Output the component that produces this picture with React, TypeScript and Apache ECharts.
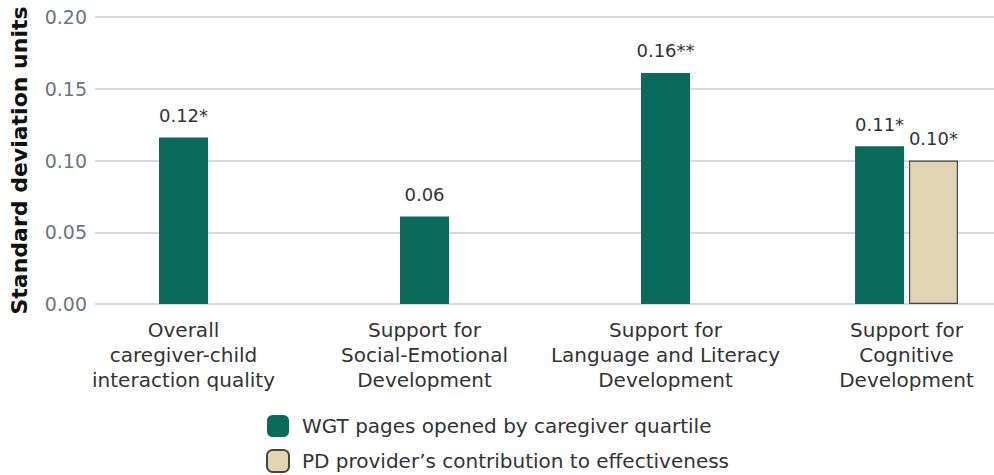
import React, { useEffect, useRef } from "react";
import * as echarts from "echarts";

const categories = [
  "Overall\ncaregiver-child\ninteraction quality",
  "Support for\nSocial-Emotional\nDevelopment",
  "Support for\nLanguage and Literacy\nDevelopment",
  "Support for\nCognitive\nDevelopment",
];
const seriesNames = [
  "WGT pages opened by caregiver quartile",
  "PD provider\u2019s contribution to effectiveness",
];
const wgtCentered = [0.116, 0.061, 0.161, "-"];
const wgtPaired = ["-", "-", "-", 0.110];
const pdPaired = ["-", "-", "-", 0.100];
const wgtLabels = ["0.12*", "0.06", "0.16**", "0.11*"];
const pdLabels = ["", "", "", "0.10*"];
const yTicks = { min: 0, max: 0.2, interval: 0.05 };

const FONT = "'DejaVu Sans', 'Open Sans', sans-serif";
const GREEN = "#0b6b5a";
const BEIGE = "#e0d4b3";

export default function App() {
  const ref = useRef<HTMLDivElement>(null);
  useEffect(() => {
    if (!ref.current) return;
    const chart = echarts.init(ref.current, undefined, { renderer: "svg" });
    const labelStyle = {
      show: true,
      position: "top",
      distance: 13,
      fontFamily: FONT,
      fontSize: 18,
      color: "#333333",
    };
    chart.setOption({
      animation: false,
      textStyle: { fontFamily: FONT },
      grid: [
        { left: 95, right: 0, top: 17, bottom: 171, outerBoundsMode: "none", containLabel: false },
        { left: 63, width: 964, top: 17, bottom: 171, outerBoundsMode: "none", containLabel: false },
      ],
      xAxis: [
        {
          gridIndex: 0,
          type: "category",
          data: categories,
          show: false,
        },
        {
          gridIndex: 1,
          type: "category",
          data: categories,
          axisLine: { show: false },
          axisTick: { show: false },
          axisLabel: {
            margin: 13,
            fontFamily: FONT,
            fontSize: 20,
            lineHeight: 25,
            color: "#333333",
            interval: 0,
          },
        },
        {
          gridIndex: 1,
          type: "category",
          data: categories,
          position: "top",
          show: false,
        },
      ],
      yAxis: [
        {
          gridIndex: 0,
          type: "value",
          min: yTicks.min,
          max: yTicks.max,
          interval: yTicks.interval,
          name: "Standard deviation units",
          nameLocation: "middle",
          nameGap: 65,
          nameTextStyle: {
            fontFamily: FONT,
            fontSize: 22,
            fontWeight: "bold",
            color: "#111111",
          },
          axisLine: { show: false },
          axisTick: { show: false },
          axisLabel: {
            margin: 8,
            fontFamily: FONT,
            fontSize: 19,
            color: "#6b7580",
            formatter: (v: number) => v.toFixed(2),
          },
          splitLine: { lineStyle: { color: "#cccccc", width: 1.5 } },
        },
        {
          gridIndex: 1,
          type: "value",
          min: yTicks.min,
          max: yTicks.max,
          interval: yTicks.interval,
          show: false,
          splitLine: { show: false },
        },
      ],
      legend: {
        orient: "vertical",
        left: 266,
        top: 415,
        padding: 0,
        itemWidth: 22,
        itemHeight: 22,
        itemGap: 12,
        textStyle: { fontFamily: FONT, fontSize: 20, color: "#333333", padding: [0, 0, 0, 8] },
        data: seriesNames,
      },
      series: [
        {
          name: seriesNames[0],
          type: "bar",
          xAxisIndex: 1,
          yAxisIndex: 1,
          data: wgtCentered,
          barWidth: 49,
          itemStyle: { color: GREEN },
          label: { ...labelStyle, formatter: (p: any) => wgtLabels[p.dataIndex] },
        },
        {
          name: seriesNames[0],
          type: "bar",
          xAxisIndex: 2,
          yAxisIndex: 1,
          data: wgtPaired,
          barWidth: 49,
          barGap: "10%",
          itemStyle: { color: GREEN },
          label: { ...labelStyle, formatter: (p: any) => wgtLabels[p.dataIndex] },
        },
        {
          name: seriesNames[1],
          type: "bar",
          xAxisIndex: 2,
          yAxisIndex: 1,
          data: pdPaired,
          barWidth: 49,
          barGap: "10%",
          itemStyle: { color: BEIGE, borderColor: "#4a4440", borderWidth: 1.2 },
          label: { ...labelStyle, formatter: (p: any) => pdLabels[p.dataIndex] },
        },
      ],
    });
    return () => chart.dispose();
  }, []);
  return <div ref={ref} style={{ width: 994, height: 475, position: "absolute", left: 0, top: 0 }} />;
}
